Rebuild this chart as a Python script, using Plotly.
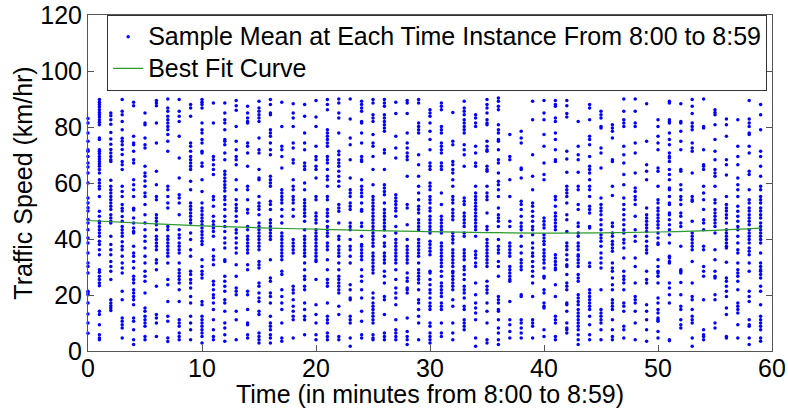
import plotly.graph_objects as go

speed_by_minute = [
    [83,81.4,77.9,74.9,71.9,71.3,69.5,67.1,65.7,63.6,60,54.6,52.9,51.2,50,47,45.7,43.3,40.4,38.6,35,31.4,30.2,27.9,21.3,20.7,20.1,17.1,13.2,10,6.3],
    [89.8,88.8,88,87.1,86.2,85.2,84.4,83.6,82.6,81.7,80.8,76.1,75.5,71.9,71.3,70.5,69.5,68.6,67.7,66.9,66,64.8,63.6,61.2,60,58.8,57.9,55.2,49.9,48.1,46.3,45.7,44.5,43.3,42.1,41,39.2,38,36.2,34.4,29,28.1,26.7,25.5,24.3,23.3,14.2,13,9.4,5.8,4.6,4],
    [85,84,82.6,81,78,75.7,73.8,72,70.7,69.5,68.3,67.7,61,58.8,57.6,56.4,55.2,54,52.9,51.7,50.5,48.7,47.5,46.3,45.7,41,38,36.2,34.4,32,30.2,28.5,25.5,18.3,17.1,16.2,15.4,14.5],
    [89.8,85.6,84.4,82,79,76,74.9,73.7,72,70.2,67.7,66.5,64.8,58.8,57,55.2,52.3,51,50,48,46.3,44.5,43.3,42.1,41,39,37.4,36.2,33.8,31.4,29.6,27.9,21.3,18.3,11.8,10.6,9.4,8.2,4.6],
    [88.8,87.6,76.7,74.3,73.7,71.3,68.3,67.1,61.2,59.4,57.6,55.2,51,50.4,47.5,45.7,43.9,42.7,42.1,37.4,35,33.8,32,29.6,26.7,25.5,24.3,21.9,20.7,19.5,18.3,16.5,11.8,10.6,7.6,4,2.3],
    [85,81.4,80.8,76.1,73.7,72.5,66,63.6,62.4,60.7,58.8,56.4,55.2,52.3,48.7,45.7,43.3,41,39.2,36.8,33.8,31.4,28.5,26.7,24.9,20.7,15.4,14.2,12.4,11.2,10,8.8,5.2,4],
    [89.5,88.6,87.6,81.4,74.3,64.2,59.4,55.2,54,48.7,47.5,46.3,45.1,43.3,41,39.8,38.6,37.4,36.2,32.6,31.4,29,23.1,13,11.8,10,5.2],
    [90,86.8,85.6,83.8,82.6,81.4,80.2,79,77.3,74.9,71.3,58.8,57.6,55.2,52.9,51.1,44.5,43.3,41,39.8,38.6,37.4,36.2,35,33.8,31.4,25.5,23.7,17.7,12.4,10.6,4.6,3.4],
    [89.8,85.6,83.8,82,76.7,68.9,61.8,55.8,54.6,52.9,48.7,43.3,41.5,40.4,38.6,37.4,36.2,35,31.4,29,27.9,26.7,25.5,24.3,21.9,17.7,11.2,10,8.8,6.4,5.2,4],
    [88,86.8,83.8,74.3,73.1,71.3,69.5,68.3,67.1,66,64.8,60.6,57.6,52.9,51.7,50.5,49.3,48.1,46.9,45.7,42.1,39.8,36.2,33.8,28.5,27.3,25.5,24.3,22.5,19.5,17.1,12.4,10,7.6,4],
    [89.8,88.8,88,86.8,81.4,79,77.9,75.5,74.3,71.3,70.7,67.1,66,61.2,57,52.9,51.1,50,48.7,47.5,46.3,45.1,43.9,42.7,41.5,40.4,39.2,38,32.6,30.2,28.5,27.3,26.1,17.7,16.5,12.4,11.2,10,8.8,7.6,6.4,5.2,2.9],
    [88.6,81.4,69.5,68.3,66.5,64.8,63,55.2,54,51.7,48.1,46.3,45.1,43.9,42.7,41,36.2,33.8,32.6,30.8,24.9,23.7,21.9,20.1,19,17.1,14.8,11.2,7.6,5.2,4],
    [88.6,85,82.6,81.4,79,75.5,74.9,73.7,70.7,68.3,64.2,63,61.8,60.6,59.4,58.3,57.1,55.2,54,52.3,50.5,48.1,46.3,44.5,42.7,40.4,38.6,36.8,32.6,32,26.7,24.9,23.1,21.3,18.3,17.1,14.2,10,8.2,5.8,3.5],
    [89.5,87.6,86,80.2,74.9,71.9,69.5,68.3,66.5,61.2,57.6,54,52.3,51.1,50,48.1,46.3,43.3,42.1,40.4,38.6,36.8,35,30.8,26.7,22.5,21.3,20.1,14.2,11.2,4],
    [87.4,85,83.2,82,81.4,74.3,73.1,70.7,66,58.8,57.6,54,50.5,49.3,44.5,43.3,41,39.8,38.6,37.4,36.2,35,30.8,29,21.3,20.1,14.8,10,9.4,5.8,4.6],
    [89.2,86.8,85.6,84.4,83.2,82,76.1,71.9,70.7,64.8,61.8,61.2,55.2,52.9,51.7,50.5,48.7,45.7,44.5,43.3,42.1,41,39.8,38.6,37.4,36.2,32,30.8,29.6,24.3,23.1,20.7,18.9,17.7,14.2,13,6.4,5.2,4,2.9],
    [89.8,88,85,84.4,79,77.9,76.7,74.3,71.9,70.1,62.4,61.2,60,58.8,53.5,52.3,50.5,46.9,45.7,44.5,43.3,42.1,41,39.8,32.6,26.1,24.9,20.7,19.5,17.1,12.4,10,8.8,7.6,5.8,4.6,2.9],
    [88.8,80.2,73.1,71.9,69.5,65.4,57.6,56.4,55.2,54,52.9,50.5,48.1,45.7,42.1,41,39.8,38.6,37.4,36.2,35,33.8,32.6,28.5,27.3,21.9,19.5,17.1,14.8,10,4.6,3.5],
    [88.3,85,83.2,80.2,74.3,72.5,68.3,67.1,61.2,58.8,57.6,55.2,54,52.9,50.5,48.1,39.8,38.6,37.4,36.2,35,23.1,21.9,20.7,18.3,16,14.2,12.4,11.2,4.6],
    [88,83.8,77.9,74.3,71.9,67.1,66,64.8,60,57.6,54,52.9,51.7,50.5,49.3,48.1,46.3,43.3,41,39.8,38.6,37.4,36.2,35,33.8,31.4,29,26.7,25.5,23.1,21.9,17.1,14.8,12.4,11.2,5.8],
    [89.5,83.6,80.2,73.1,69.5,68.3,66,64.8,61.8,55.2,54,49.3,48.1,46.9,45.7,43.3,42.1,41,39.8,38.6,37.4,36.2,35,33.8,32.6,32,25.5,16.5,13,10,5.8,4],
    [89.8,88,86.2,79,77.9,76.7,75.5,74.3,73.1,69.5,68.3,67.1,64.8,62.4,61.2,58.8,55.2,54,50.5,49.3,48.1,46.3,44.5,43.3,42.1,41,38.6,37.4,36.2,32.6,29,25.5,24.3,23.1,17.1,12.4,11.2,10,6.4,5.2,4],
    [90,88.6,85,83.2,77.9,71.3,70.1,68.3,67.1,66,64.2,62.4,60.6,58.8,52.3,51.1,49.9,45.7,41,39.8,37.4,36.2,35,33.8,31.4,29,26.7,25.5,24.3,23.1,21.9,20.7,16,13,5.2,4],
    [90,82.9,76.1,73.7,68.3,61.8,57.6,56.4,55.2,52.9,51.7,50.5,45.7,44.5,43.3,39.8,37.4,36.2,33.8,31.4,23.7,21.9,18.9,18.3,12.4,11.2,10,4.6,1.7],
    [89.2,88,86.8,85.6,82,81.4,77.9,74.3,69.5,68.3,67.7,61.2,58.8,57.6,56.4,55.2,52.9,50.5,49.9,45.7,44.5,41,38,37.4,36.2,35,33.8,32.6,29,26.7,24.9,21.9,18.9,14.2,10.6,5.8,4.6],
    [89.8,88.6,84.4,83.2,82,77.3,74.3,73.1,69.5,64.8,59.4,55.2,54,52.9,51.7,50.5,49.3,48.1,46.9,45.7,44.5,43.3,42.1,41,39.8,38.6,37.4,35,33.8,32.6,31.4,30.2,29,27.9,20.7,18.9,17.1,16,14.8,13.6,12.4,11.2,10,5.8,4.6,4],
    [89.8,88.6,87.4,84.4,83.2,82,80.8,79.6,78.5,71.9,70.7,64.8,59.4,58.2,57,55.8,52.9,50.5,49.3,48.1,46.9,45.7,44.5,43.3,41,38.6,37.4,35,33.8,32.6,31.4,28.5,26.7,24.3,19.5,18.3,13,6.4,5.2,4],
    [88.8,84.8,76.7,72.5,68.9,55.8,54.6,53.5,52.3,51.1,50,48.1,44.5,42.1,39.8,38.6,37.4,36.2,35,33.8,32.6,31.4,29,25.5,22.5,20.7,18.9,16.5,11.2,7.6,6.4,5.2,4],
    [89.5,88.6,84.8,77.9,74.3,72.5,70.7,69.5,68.3,62.4,52.3,51.1,45.1,39.8,37.4,36.2,35,33.8,32.6,31.4,27.9,26.1,24.9,22.5,21.9,20.7,11.8,7,5.2,4,2.3],
    [89.8,88.6,81.4,80.2,79,77.9,70.1,66.5,62.4,58.8,56.4,54,51.7,50.5,49.3,46.9,45.7,44.5,43.3,39.8,38.6,37.4,36.2,35,33.8,31.4,29,27.9,26.7,25.5,24.3,21.9,18.3,17.1,14.8,12.4,10,4],
    [86.2,85,83.8,81.4,78.5,75.5,71.9,67.1,66,64.8,60,58.8,57.6,55.2,54,52.9,51.1,50,48.1,46.9,45.7,44.5,43.3,42.1,39.2,38,36.8,35.6,34.4,28.5,27.9,25.5,23.7,21.9,20.7,18.9,17.1,16,14.8,10,8.8,6.4,5.2,4,2.9],
    [88.6,87.4,86.2,80.2,79,77.9,74.3,73.1,71.9,70.7,67.1,66,64.8,56.4,52.3,48.1,46.9,45.7,44.5,43.3,42.1,38.6,37.4,36.2,35,33.8,32.6,31.4,30.2,28.5,26.7,24.3,23.1,21.9,20.7,19.5,17.1,16,14.8,10,6.4,5.2],
    [85.2,74.9,73.7,67.7,66.5,64.8,63.6,61.2,58.8,55.2,54,52.9,50.5,49.3,48.1,46.9,42.1,41,39.8,38.6,36.2,35,33.8,32.6,31.4,30.2,28.5,27.9,26.7,25.5,24.3,23.1,21.9,18.3,16,10,6.4,4],
    [89.2,86.8,85.6,84.4,82.6,81.4,80.2,79,77.9,73.7,71.9,70.1,66,54.6,53.5,52.3,49.3,48.1,46.9,45.7,44.5,42.1,41,36.2,35,33.8,32.6,30.2,29,27.3,25.5,23.1,21.9,20.7,18.9,16,14.8,11.2,10,8.8,7.6],
    [84.4,83.2,81.4,80.2,73.1,70.7,67.1,66,58.8,56.4,55.2,54,52.9,51.7,50.5,49.3,48.1,46.9,45.7,44.5,43.3,41,35.6,34.4,33.2,31.4,30.2,24.3,20.1,17.1,15.4,13.6,11.2,4.6,1.7],
    [89.8,88,86.8,85,82.6,81.4,80.8,74.9,73.1,71.9,71.3,66,64.8,64.2,58.8,56.4,55.2,54,49.3,44.5,43.3,39.8,38.6,37.4,36.2,35,33.8,32.6,31.4,30.2,24.9,23.1,21.9,20.7,17.1,14.2,10,4,2.9],
    [90.4,89.2,87.4,86.2,80.8,79,77.9,75.5,74.9,71.9,68.3,67.1,63.6,60.6,59.4,57.6,55.2,51.1,48.7,47.5,46.3,44.5,39.8,37.4,36.2,35,32,30.2,26.7,19.5,18.3,17.1,14.8,14.2,11.2,8.2,6.4,4,2.3],
    [77.3,69.5,68.3,61.2,55.2,46.3,44.5,38.6,37.4,36.2,35,33.8,30.2,29,27.9,26.7,25.5,24.9,17.7,11.2,9.4,7,4.6],
    [78.5,76.1,74.3,65.4,64.8,61.8,53.5,52.3,50.5,48.1,45.7,44.5,43.3,41,37.4,35,32.6,31.4,30.2,29,20.1,19.5,11.2,10,8.2,6.4,4.6],
    [89.2,82.6,70.1,62.4,57.6,52.9,51.7,49.9,48.1,46.3,44.5,43.3,41.5,38.6,36.8,35,33.8,32,30.2,28.5,26.7,24.3,19.5,11.2,10,8.8,4.6],
    [89.5,85,82.6,77.3,73.1,67.1,63,61.2,47.5,46.3,45.1,43.9,41.5,40.4,39.2,38,36.2,35,33.8,32.6,31.4,29.6,26.7,26.1,21.9,20.7,17.1,16,15.4,7.6,5.2],
    [89.5,88,87.4,83.2,82,77.9,75.5,71.9,68.3,67.7,55.2,54,51.7,49.3,48.1,46.9,45.7,44.5,43.3,34.4,33.2,32,30.8,29.6,29,23.7,19.5,12.4,11.2,10,5.2,4],
    [89.5,87.6,84.8,83.6,71.3,68.6,63.8,58.8,57.6,56.4,55.2,52.9,48.7,46.9,42.7,38.6,37.4,36.2,34.4,32.6,30.8,30.2,27.3,24.3,23.1,21.9,17.1,16.5,14.2,10,8.2,7.6,6.4],
    [82,73.1,70.1,68.3,63.8,58.8,57.6,52.3,50.5,45.7,44.5,42.1,41,38.6,37.4,36.2,34.4,33.8,32.6,31.4,30.2,27.3,26.1,24.9,20.1,18.9,17.7,16.5,14.8,13.6,12.4,11.2,10,8.8,7.6,5.8,4,2.3],
    [88,86.8,82.6,76.7,75.5,73.7,69.5,66,64.8,63.6,61.2,58.8,57.6,55.2,51.7,50.5,49.3,44.5,43.9,31.4,30.2,21.9,20.7,19.5,18.3,17.1,16,14.8,12.4,9.4,5.8,4],
    [85.6,84.4,83.2,80.2,79.6,72.5,70.7,65.4,54.6,52.3,51.1,50,48.7,46.9,45.1,43.3,41.5,40.4,39.2,37.4,35,33.2,31.4,29.6,21.9,14.8,13.6,12.4,11.2,10,7.6,4],
    [80.8,79.6,78.5,76.1,68.3,67.7,58.8,55.5,45.7,44.5,42.1,41,39.2,38,36.8,35.6,31.4,29.6,28.5,26.1,23.7,21.9,18.3,17.1,16,14.8,11.2,7.6,5.2,4],
    [90,85.6,82.6,81.4,80.2,73.1,70.1,67.1,63,59.4,54.6,52.3,50.5,48.7,46.9,45.1,43.3,42.1,39.8,38.6,36.8,33.2,28.5,26.7,25.5,24.3,21.9,17.1,16,14.2,8.8,7.6,4.6],
    [90,85.6,81.4,80.2,74.3,70.7,63.6,58.2,57,55.2,54,52.3,48.1,43.3,41,39.2,33.2,30.2,24.3,19.5,18.3,17.1,14.2,10,4],
    [88.3,74.9,66.5,64.2,61.2,51.1,48.7,47.5,46.3,45.1,43.9,42.7,41,39.2,37.4,36.2,35,28.5,25.5,24.3,16.5,14.2,11.2,7.6,3.5],
    [82.6,80.2,76.7,74.3,71.9,65.4,64.2,58.8,54,52.9,51.1,50,48.7,47.5,46.3,45.1,43.9,42.1,40.4,38.6,38,32.6,30.2,28.5,27.9,26.7,24.3,18.9,17.1,14.8,13.6,11.8,11.2,10.6,7,4.6],
    [89.2,88.6,82.6,82,81.4,77.9,75.5,73.7,70.7,69.5,68.9,67.7,64.8,63,61.2,58.2,57.6,55.2,52.9,52.3,49.3,48.7,46.9,45.1,43.3,41.5,38.6,33.8,33.2,32,31.4,24.3,22.5,20.1,17.1,4,3.7],
    [88.3,82,81.4,78.5,74.9,71.9,64.8,64.2,59.4,57.6,55.2,54,52.3,49.3,48.1,45.7,44.5,37.4,29,28.5,27.9,24.5,20.1,16,14.8,11.2,9.4,8.2],
    [89.8,87.4,84.8,81.4,80.2,79,74.3,72.5,71.3,63.6,55.2,54,53.5,46.3,42.1,41,39.8,38.6,37.4,36.2,32,24.3,19.5,18.3,14.8,12.4,11.2,10,4.6,1.7],
    [90,80.2,79.6,71.9,66.5,66,64.8,58.8,56.4,54,50.5,46.9,45.7,43.3,37.4,36.2,30.2,28.5,26.7,18.3,7.6,5.8,5.2,4],
    [86.2,85.2,84.4,80.8,75.5,71.3,68.3,64.8,63.6,62.4,58.8,54,52.9,50.5,49.3,48.1,46.9,45.7,44.5,42.1,36.2,32.6,28.5,26.7,26.1,20.1,18.3,10,8.2],
    [82.9,80.8,76.7,68.3,66.5,62.9,55.2,52.3,51.1,50,48.7,47.5,45.7,43.3,42.1,41,39.8,38.6,37.4,36.8,31.7,26.1,24.9,23.1,21.3,19.5,15.4,13,5.2,4.6],
    [82.6,73.1,69.5,66.5,61.8,59.4,57.6,55.2,51.7,49.9,48.1,46.3,44.5,43.3,41,38.6,36.2,35,31.4,29,27.9,26.7,24.9,21.9,17.1,16,14.8,13.6,9.4,4.6],
    [89.5,82.9,81.4,80.2,77.9,77.3,73.1,70.7,64.2,63,57.6,54,52.9,51.1,50,48.7,47.5,46.3,45.1,43.3,42.1,41,39.8,38.6,36.8,35.6,34.4,31.4,28.5,21.3,19.5,17.7,11.2,9.4,8.8,4.6,2.3],
    [88,84.4,79,71.3,69.5,66,62.4,58.8,57.6,55.2,54,52.9,51.1,50,48.7,47.5,45.7,44.5,43.3,42.1,41,39.8,38.6,35,31.4,30.2,29,28.5,27.3,26.1,23.1,21.3,16.5,12.4,11.2,10,8.8,7.6,4.6,3.5],
]
minutes = list(range(60))

# Best-fit curve
fit_minutes = [0, 5, 10, 15, 20, 25, 30, 35, 40, 45, 50, 55, 59]
fit_speed = [46.6, 45.6, 44.7, 44.0, 43.5, 43.0, 42.6, 42.3, 42.1, 42.2, 42.5, 43.1, 43.9]

x_ticks = [0, 10, 20, 30, 40, 50, 60]
y_ticks = [0, 20, 40, 60, 80, 100, 120]

legend_names = ["Sample Mean at Each Time Instance From 8:00 to 8:59", "Best Fit Curve"]

xs, ys = [], []
for m, col in zip(minutes, speed_by_minute):
    for v in col:
        xs.append(m)
        ys.append(v)

FONT = "Liberation Sans, Arial, sans-serif"
FS = 25


def big(t):
    return "<span style='font-size:%dpx'>%s</span>" % (FS, t)


fig = go.Figure()
fig.add_trace(go.Scatter(
    x=xs, y=ys, mode="markers",
    name=big(legend_names[0]),
    marker=dict(color="#0000ff", size=3.5, line=dict(width=0)),
    cliponaxis=False,
))
fig.add_trace(go.Scatter(
    x=fit_minutes, y=fit_speed, mode="lines",
    name=big(legend_names[1]),
    line=dict(color="#2a9a2a", width=1.2),
    line_shape="spline",
))

axis_common = dict(
    showline=True, linecolor="#555555", linewidth=1, mirror="ticks",
    ticks="inside", ticklen=6, tickcolor="#555555",
    showgrid=False, zeroline=False,
    tickfont=dict(family=FONT, size=FS, color="black"),
)
fig.update_xaxes(range=[0, 60], tickvals=x_ticks, **axis_common,
                 ticklabelstandoff=-5,
                 title=dict(text="Time (in minutes from 8:00 to 8:59)",
                            font=dict(family=FONT, size=FS, color="black"), standoff=3))
fig.update_yaxes(range=[0, 120], tickvals=y_ticks, **axis_common,
                 title=dict(text="Traffic Speed (km/hr)",
                            font=dict(family=FONT, size=FS, color="black"), standoff=0))

fig.update_layout(
    width=788, height=408,
    margin=dict(l=88, r=16, t=15, b=57, autoexpand=False),
    paper_bgcolor="white", plot_bgcolor="white",
    showlegend=True,
    legend=dict(
        x=0.028, y=1, xanchor="left", yanchor="top",
        bgcolor="white", bordercolor="#333333", borderwidth=1,
        font=dict(family=FONT, size=22, color="black"),
        tracegroupgap=0, itemwidth=30,
    ),
)

fig.write_html("out.html")
